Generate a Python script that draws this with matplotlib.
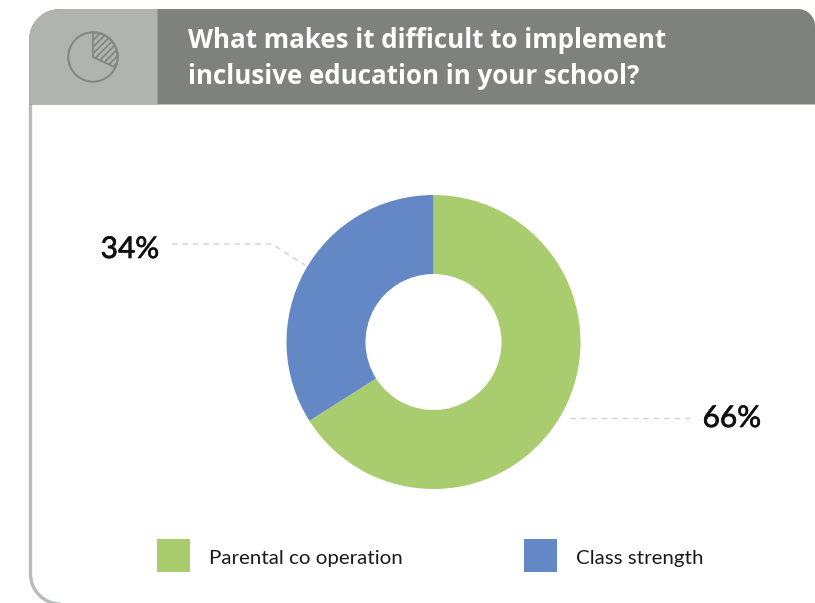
import matplotlib
matplotlib.use("Agg")
import matplotlib.pyplot as plt
import matplotlib.patheffects as pe
from matplotlib.patches import Circle, PathPatch, Rectangle, Wedge
from matplotlib.path import Path

plt.rcParams['font.family'] = ['Lato', 'DejaVu Sans']
plt.rcParams['hatch.linewidth'] = 1.3
plt.rcParams['hatch.color'] = "#858785"

W, H = 815, 603
K = 0.5523  # bezier handle length for a quarter circle

title_lines = ["What makes it difficult to implement", "inclusive education in your school?"]
categories = ["Parental co operation", "Class strength"]
values = [66, 34]
colors = ["#a9cc6f", "#6487c5"]

HEADER_DARK = "#7f817f"
HEADER_LIGHT = "#b1b3b1"
BORDER = "#b9baba"
LEADER = "#d2d2d2"
ICON = "#858785"

fig = plt.figure(figsize=(W / 100, H / 100), dpi=100, facecolor="white")

# full-figure axes in pixel units, y pointing down
bg = fig.add_axes([0, 0, 1, 1])
bg.set_xlim(0, W)
bg.set_ylim(H, 0)
bg.axis("off")


def rounded_top(x0, x1, y0, y1, r_left, r_right):
    a, b = r_left * (1 - K), r_right * (1 - K)
    verts = [(x0, y1), (x0, y0 + r_left), (x0, y0 + a), (x0 + a, y0), (x0 + r_left, y0)]
    codes = [Path.MOVETO, Path.LINETO, Path.CURVE4, Path.CURVE4, Path.CURVE4]
    verts += [(x1 - r_right, y0), (x1 - b, y0), (x1, y0 + b), (x1, y0 + r_right), (x1, y1), (x0, y1)]
    codes += [Path.LINETO, Path.CURVE4, Path.CURVE4, Path.CURVE4, Path.LINETO, Path.CLOSEPOLY]
    return Path(verts, codes)


# card border, the bottom edge runs off the page
r = 30
border = Path(
    [(30.5, 104), (30.5, 604 - r), (30.5, 604 - r * (1 - K)), (30.5 + r * (1 - K), 604), (30.5 + r, 604)],
    [Path.MOVETO, Path.LINETO, Path.CURVE4, Path.CURVE4, Path.CURVE4],
)
bg.add_patch(PathPatch(border, fc="none", ec=BORDER, lw=2.4))

# header band
bg.add_patch(PathPatch(rounded_top(29, 815, 9, 104.5, 31, 17), fc=HEADER_DARK, ec="none"))
bg.add_patch(PathPatch(rounded_top(29, 157.5, 9, 104.5, 31, 0), fc=HEADER_LIGHT, ec="none"))

# small pie icon in the header
bg.add_patch(Circle((93, 57), 24.7, fc="none", ec=ICON, lw=1.5))
bg.add_patch(Wedge((93, 57), 24.7, -90, 25, fc="none", ec=ICON, lw=1.3, hatch="/////"))

for line, y in zip(title_lines, [48, 84]):
    bg.text(188, y, line, color="white", fontsize=18.6, fontweight="bold", family="Open Sans",
            va="baseline", ha="left")

# donut
cx, cy, radius, hole = 433.5, 342, 147, 68
pie_ax = fig.add_axes([(cx - radius) / W, 1 - (cy + radius) / H, 2 * radius / W, 2 * radius / H])
pie_ax.pie(values, colors=colors, startangle=90, counterclock=False, radius=1,
           wedgeprops=dict(width=1 - hole / radius, linewidth=0))
pie_ax.set_xlim(-1, 1)
pie_ax.set_ylim(-1, 1)

# leader lines and percent labels
bg.plot([570, 695], [418, 418], color=LEADER, lw=1, ls=(0, (4, 3.5)))
bg.plot([172, 272, 305], [244, 244, 265], color=LEADER, lw=1, ls=(0, (4, 3.5)))
for val, x, y in zip(values, [732, 130], [427, 258]):
    bg.text(x, y, f"{val}%", fontsize=21.5, color="#111111", ha="center", va="baseline",
            path_effects=[pe.withStroke(linewidth=0.5, foreground="#111111")])

# legend
for name, col, x in zip(categories, colors, [157, 524]):
    bg.add_patch(Rectangle((x, 539), 33, 33, fc=col, ec="none"))
    bg.text(x + 52, 564, name, fontsize=14.75, color="#1a1a1a", ha="left", va="baseline")

fig.savefig("out.png", dpi=100, facecolor="white")
